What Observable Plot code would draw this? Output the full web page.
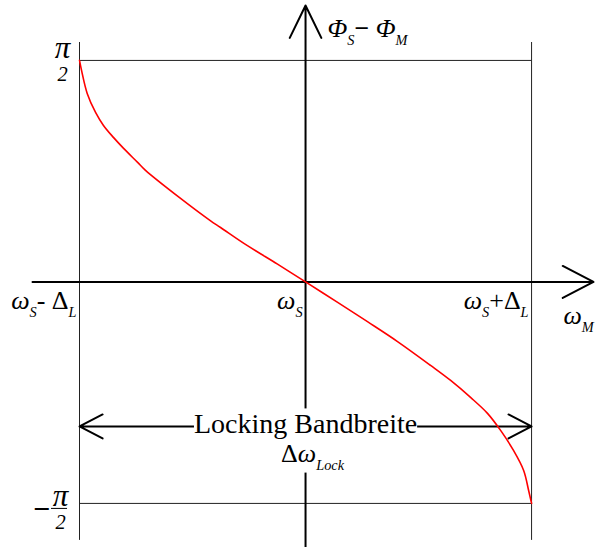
<!DOCTYPE html>
<html>
<head>
<meta charset="utf-8">
<script src="https://cdn.jsdelivr.net/npm/d3@7"></script>
<script src="https://cdn.jsdelivr.net/npm/@observablehq/plot@0.6"></script>
<style>
  html, body { margin: 0; padding: 0; background: #fff; }
  #chart svg { display: block; }
  #chart text { white-space: pre; }
</style>
</head>
<body>
<div id="chart"></div>
<script>
// Detuning of the master frequency ω_M from ω_S, in units of Δ_L
const detuning = [-1, -0.991, -0.966, -0.929, -0.894, -0.850, -0.805, -0.743, -0.708,
  -0.553, -0.420, -0.376, -0.257, -0.124, 0, 0.142, 0.274, 0.407, 0.553, 0.642,
  0.730, 0.805, 0.863, 0.920, 0.965, 0.987, 1];
// Locked phase difference Φ_S − Φ_M (radians) at each detuning
const phase = [1.571, 1.500, 1.337, 1.202, 1.110, 1.025, 0.947, 0.848, 0.791,
  0.592, 0.433, 0.386, 0.257, 0.126, 0, -0.145, -0.282, -0.423, -0.592, -0.699,
  -0.819, -0.932, -1.053, -1.195, -1.337, -1.479, -1.571];

// Edges of the locking range and of the phase range
const lockRange = [-1, 1];
const phaseLimits = [Math.PI / 2, -Math.PI / 2];

// Labels (markup: _{..} subscript, !{..} bold, /{..} next line below)
const phaseTickLabels = ["π/{2}", "π/{2}"];
const phaseTickSign = ["−"];
const freqTicks = [-1, 0, 1];
const freqTickLabels = ["ω_{S}- Δ_{L}", "ω_{S}", "ω_{S}+Δ_{L}"];
const phaseAxisLabel = ["Φ_{S}!{−} Φ_{M}"];
const freqAxisLabel = ["ω_{M}"];
const bandLabel = ["Locking Bandbreite"];
const bandSymbol = ["Δω_{Lock}"];

const curve = detuning.map((d, i) => ({d, p: phase[i]}));

// Scale extents: the axes run across the whole drawing
const xDomain = [-1.208, 1.274];
const yDomain = [-1.8834, 1.9604];
const lockRow = -1.025; // height of the bandwidth arrow

const serif = "'Liberation Serif', 'Times New Roman', serif";
const txt = d => d;

const svg = Plot.plot({
  width: 598,
  height: 547,
  marginLeft: 32,
  marginRight: 5,
  marginTop: 5,
  marginBottom: 0,
  x: {domain: xDomain, axis: null},
  y: {domain: yDomain, axis: null},
  style: {background: "#fff", fontFamily: serif, color: "#000"},
  marks: [
    // locking-range frame
    Plot.ruleX(lockRange, {y1: -1.833, y2: 1.698, stroke: "#222", strokeWidth: 1}),
    Plot.ruleY(phaseLimits, {x1: lockRange[0], x2: lockRange[1], stroke: "#222", strokeWidth: 1}),
    // coordinate axes with open arrowheads
    Plot.arrow([0], {x1: 0, x2: 0, y1: yDomain[0], y2: yDomain[1], stroke: "#000", strokeWidth: 2, headLength: 27, headAngle: 52}),
    Plot.arrow([0], {x1: xDomain[0], x2: xDomain[1], y1: 0, y2: 0, stroke: "#000", strokeWidth: 2, headLength: 26, headAngle: 55}),
    // bandwidth arrow, pointing to both edges
    Plot.arrow(lockRange, {x1: 0, x2: d => d, y1: lockRow, y2: lockRow, stroke: "#000", strokeWidth: 2, headLength: 19.5, headAngle: 55}),
    // phase curve
    Plot.line(curve, {x: "d", y: "p", stroke: "#ff0000", strokeWidth: 1.6, curve: "catmull-rom"}),
    // ±π/2 labels
    Plot.text(phaseTickLabels.slice(0, 1), {text: txt, x: lockRange[0], y: phaseLimits[0], dx: -17, dy: -12, fontSize: 31}),
    Plot.text(phaseTickLabels.slice(1), {text: txt, x: lockRange[0], y: phaseLimits[1], dx: -19, dy: -7, fontSize: 31}),
    Plot.text(phaseTickSign, {text: txt, x: lockRange[0], y: phaseLimits[1], dx: -38, dy: 6, fontSize: 30, fontWeight: 900}),
    Plot.ruleY(phaseLimits.slice(1), {x1: -1.124, x2: -1.053, dy: 5, stroke: "#000", strokeWidth: 1}),
    // axis titles and frequency ticks
    Plot.text(phaseAxisLabel, {text: txt, x: 0, y: yDomain[1], dx: 22, dy: 23, fontSize: 26, textAnchor: "start"}),
    Plot.text(freqTickLabels, {text: txt, x: (d, i) => freqTicks[i], y: 0, dx: -3, dy: 19, fontSize: 26, textAnchor: "end"}),
    Plot.text(freqAxisLabel, {text: txt, x: xDomain[1], y: 0, dx: -30, dy: 34, fontSize: 26, textAnchor: "start"}),
    // bandwidth label
    Plot.text(bandLabel, {text: txt, x: 0, y: lockRow, dy: -2, fontSize: 28}),
    Plot.text(bandSymbol, {text: txt, x: 0, y: lockRow, dx: 7, dy: 27, fontSize: 26})
  ]
});

document.getElementById("chart").appendChild(svg);

// Turn the small markup into tspans: subscripts, bold runs, stacked lines, italic Greek letters
const NS = "http://www.w3.org/2000/svg";
function richText(node) {
  const src = node.textContent;
  if (!/[_!\/ωΦπ]/.test(src)) return;
  const fs = parseFloat(getComputedStyle(node).fontSize);
  const shift = 0.3 * fs;
  node.textContent = "";
  const re = /_\{([^}]*)\}|!\{([^}]*)\}|\/\{([^}]*)\}|([ωΦπ])|([^_!\/ωΦπ]+)/g;
  let m, lowered = false;
  while ((m = re.exec(src))) {
    const t = document.createElementNS(NS, "tspan");
    if (m[1] !== undefined) {
      t.textContent = m[1];
      t.setAttribute("font-size", (0.55 * fs).toFixed(1));
      t.setAttribute("font-style", "italic");
      if (!lowered) { t.setAttribute("dy", shift); lowered = true; }
    } else if (m[3] !== undefined) {
      t.textContent = m[3];
      t.setAttribute("x", 0);
      t.setAttribute("dy", (0.72 * fs).toFixed(1));
      t.setAttribute("font-size", (0.66 * fs).toFixed(1));
      t.setAttribute("font-style", "italic");
    } else {
      if (lowered) { t.setAttribute("dy", -shift); lowered = false; }
      if (m[2] !== undefined) { t.textContent = m[2]; t.setAttribute("font-weight", "bold"); }
      else if (m[4] !== undefined) { t.textContent = m[4]; t.setAttribute("font-style", "italic"); }
      else t.textContent = m[5];
    }
    node.appendChild(t);
  }
}
d3.select(svg).selectAll("text").each(function () { richText(this); });

// White panel behind the bandwidth label so the lines stop at the text
const labelNodes = d3.select(svg).selectAll("text").filter(function () {
  return this.textContent === bandLabel[0] || this.textContent === "ΔωLock";
}).nodes();
if (labelNodes.length) {
  const origin = svg.getBoundingClientRect();
  let x0 = Infinity, y0 = Infinity, x1 = -Infinity, y1 = -Infinity;
  for (const n of labelNodes) {
    const b = n.getBoundingClientRect();
    x0 = Math.min(x0, b.left - origin.left); y0 = Math.min(y0, b.top - origin.top);
    x1 = Math.max(x1, b.right - origin.left); y1 = Math.max(y1, b.bottom - origin.top);
  }
  const g = labelNodes[0].parentNode;
  const rect = document.createElementNS(NS, "rect");
  rect.setAttribute("x", x0); rect.setAttribute("y", y0);
  rect.setAttribute("width", x1 - x0); rect.setAttribute("height", y1 - y0);
  rect.setAttribute("fill", "#fff");
  g.parentNode.insertBefore(rect, g);
}
</script>
</body>
</html>
